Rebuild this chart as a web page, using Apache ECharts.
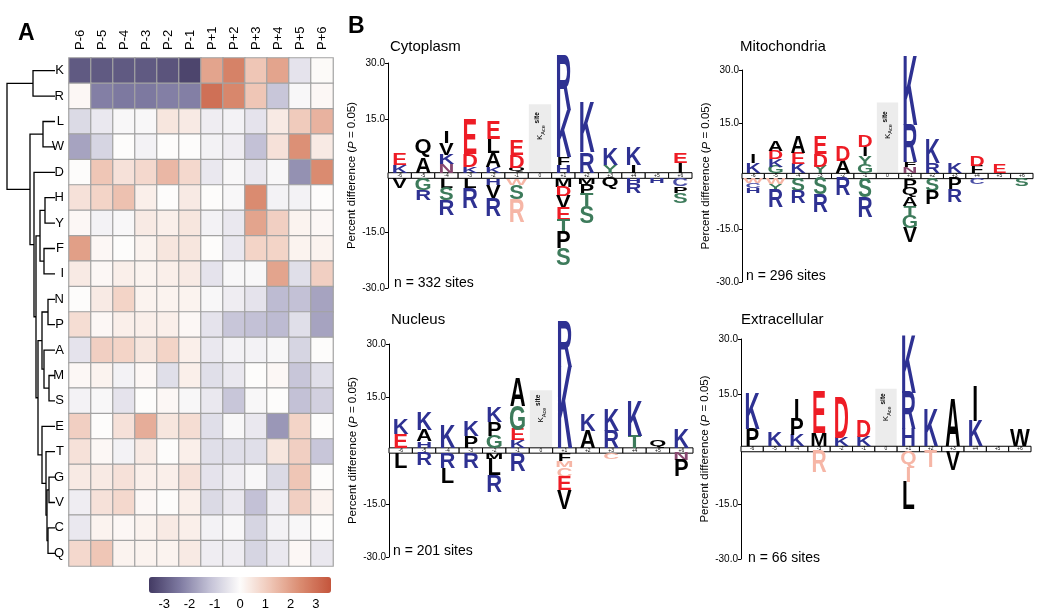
<!DOCTYPE html>
<html><head><meta charset="utf-8">
<script src="https://cdn.jsdelivr.net/npm/echarts@6/dist/echarts.min.js"></script>
<style>html,body{margin:0;padding:0;background:#fff}#c{width:1039px;height:613px}</style>
</head><body><div id="c"></div>
<script>
// ---------------- DATA: panel A heatmap ----------------
const positions = ['P-6','P-5','P-4','P-3','P-2','P-1','P+1','P+2','P+3','P+4','P+5','P+6'];
const residues = ['K','R','L','W','D','H','Y','F','I','N','P','A','M','S','E','T','G','V','C','Q'];
const heatValues = [
  [-3.0,-3.0,-3.0,-3.0,-3.1,-3.4, 1.9, 2.6, 1.2, 1.9,-0.5, 0.05], // K
  [ 0.1,-2.3,-2.4,-2.4,-2.3,-2.3, 3.0, 2.5, 1.2,-1.1,-0.1, 0.1],  // R
  [-0.7,-0.4,-0.1,-0.1, 0.5, 0.4,-0.3,-0.2,-0.5, 0.4, 1.1, 1.6],  // L
  [-1.7,-0.8, 0.0,-0.2, 0.0, 0.0,-0.2,-0.3,-1.2, 0.6, 2.3, 0.4],  // W
  [ 0.0, 1.2, 0.6, 0.8, 1.5, 0.8,-0.4,-0.1,-0.4,-0.1,-2.0, 2.4],  // D
  [ 0.6, 0.9, 1.3, 0.3, 0.0, 0.4, 0.0,-0.1, 2.4,-0.2,-0.2, 0.0],  // H
  [ 0.1,-0.2,-0.1, 0.4, 0.3, 0.5,-0.2,-0.4, 1.9, 1.0, 0.2, 0.1],  // Y
  [ 2.0, 0.1, 0.0, 0.2, 0.5, 0.5, 0.0,-0.4, 0.9, 0.9, 0.2, 0.2],  // F
  [ 0.4, 0.1, 0.3, 0.2, 0.3, 0.4,-0.5,-0.1,-0.1, 1.9,-0.6, 1.0],  // I
  [ 0.0, 0.4, 0.9, 0.2, 0.2, 0.2,-0.1,-0.3,-0.5,-1.3,-1.2,-1.7],  // N
  [ 0.7, 0.1, 0.3, 0.3, 0.3, 0.1,-0.5,-1.1,-1.2,-1.3,-0.6,-1.7],  // P
  [-0.5, 1.0, 0.9, 0.5, 0.9, 0.3,-0.4,-0.2,-0.2,-0.1,-0.8, 0.0],  // A
  [ 0.1, 0.2,-0.2, 0.1,-0.6, 0.3,-0.6,-0.4, 0.0, 0.1,-1.1,-0.6],  // M
  [-0.2,-0.1,-0.5, 0.0, 0.1,-0.1,-0.4,-1.1,-0.1, 0.0,-1.2,-0.9],  // S
  [ 1.0, 0.0, 0.6, 1.7, 0.5, 0.7,-0.6,-0.1,-0.4,-1.9, 0.9, 0.0],  // E
  [ 0.6, 0.1,-0.2, 0.4, 0.0, 0.3,-0.6,-0.6,-0.6, 0.5, 1.0,-1.1],  // T
  [ 0.4, 0.4, 0.6, 0.3, 0.3, 0.6,-0.5,-0.3,-0.1,-0.7, 1.2, 0.0],  // G
  [-0.3, 0.6, 0.8, 0.1, 0.0, 0.3,-0.7,-0.4,-1.2,-0.3, 1.0, 0.2],  // V
  [-0.4, 0.2, 0.1, 0.2, 0.4, 0.3,-0.2,-0.1,-0.8,-0.2,-0.1, 0.0],  // C
  [ 0.8, 1.2, 0.2, 0.2, 0.2, 0.4,-0.3,-0.3,-0.8,-0.4, 0.1,-0.4]   // Q
];
const colorScaleTicks = [-3,-2,-1,0,1,2,3];
// dendrogram: [left, right, mergeHeight], leaves are row indices of residues
const dendroTree = [[0,1,22],
  [[2,3,12],
   [4,
    [[[5,6,10],[7,8,11],15],
     [[[9,10,7],[11,[12,13,6],11],13],
      [14,[15,[[16,17,6],[18,19,7],8],9],13],17],19],21],25],48];

// ---------------- DATA: panel B logos ----------------
// letters bottom->top (up) or top->bottom (down), value = percent difference; lowercase = pale letters
const posLabels = ['-6','-5','-4','-3','-2','-1','0','+1','+2','+3','+4','+5','+6'];
const compartments = ['Cytoplasm','Mitochondria','Nucleus','Extracellular'];
const siteCounts = [332, 296, 201, 66];
const kaceBoxTop = [19, 20.8, 17, 16.4];
const cytoUp = ['K2.1 E3.0','A3.9 Q5.0','N2.3 K2.5 V3.0 I2.9','K1.6 D3.5 E9.1','K1.6 A3.6 L3.7 E4.7','Q1.3 D3.4 E3.9','',
  'H2.1 F2.1 K12.6 R14.4','R5.5 K13.3','Y2.1 K4.4','I2.1 K4.8','','I2.5 E2.6'];
const cytoDown = ['V2.7','G3.1 R2.7','L2.5 S3.3 R3.9','L2.7 R5.2','H1.8 V3.4 R4.8','w1.8 S3.8 r6.0','',
  'M2.2 D2.5 V3.2 E3.2 T3.2 P4.4 S4.5','M1.5 P2.7 T3.2 S4.4','Q2.9','H1.3 R2.5','H1.3','C2.0 P1.8 S2.7'];
const mitoUp = ['K2.85 I2.55','G1.9 K2.1 D2.4 A2.85','K2.65 E3.15 A4.45','Y1.9 D3.6 E4.75','A3.6 D4.1','G2.45 Y2.4 I2.65 D3.15','',
  'N1.7 F1.5 R10.35 K19.0','R2.85 K6.65','K2.65','F2.2 D2.65','E2.55',''];
const mitoDown = ['w1.35 C1.25 H1.4','w1.6 Y1.6 R4.95','S3.5 R3.3','S4.45 R4.95','R4.75','S5.3 R5.6','',
  'P2.55 Q2.85 A2.4 T2.85 G3.3 V4.1','S3.5 P3.8','P3.05 R3.6','C1.6','','S2.1'];
const nucUp = ['E3.9 K4.2','H1.9 A3.2 K5.1','K6.3','P3.2 K4.3','G3.4 P4.0 K4.1','K2.1 E3.0 G6.6 A7.9','',
  'K22.7 R12.8','A4.8 K4.6','R4.8 K6.1','T3.4 K9.5','Q2.4','K5.2'];
const nucDown = ['L4.3','R3.4','R4.3 L4.2','R4.3','M1.7 L4.5 R4.6','R5.0','',
  'F2.1 m1.9 c2.6 E3.9 V5.3','','c1.7','','','N2.0 P4.5'];
const extraUp = ['P4.8 K9.3','K3.7','K3.1 P4.4 I5.4','M3.5 E11.1','K2.3 D10.9','K2.5 D4.3','',
  'H4.6 R10.0 K15.1','K9.7','A12.5','K6.8 I9.1','','W4.5'];
const extraDown = ['','','','r5.6','','','',
  'q4.2 i4.0 L7.4','t4.2','V5.1','','',''];

// ---------------- STYLE / LAYOUT ----------------
const FONT = '"Liberation Sans", Arial, Helvetica, sans-serif';
const aaColor = {K:'#2e3192',R:'#2e3192',H:'#2e3192',D:'#ee1c25',E:'#ee1c25',
  S:'#3d7b5b',T:'#3d7b5b',G:'#3d7b5b',Y:'#3d7b5b',N:'#87476f',C:'#4b4fa6'};
const PALE = '#f6b6a6';
const panelGrids = [
  {left:388, top:63, width:304, height:225},
  {left:742, top:70, width:291, height:212},
  {left:389, top:344, width:304, height:213},
  {left:741, top:339, width:290, height:220}];
const titlePos = [[390,39],[740,39],[391,312],[741,312]];
const nPos = [[394,276],[746,269],[393,544],[748,551]];
const letterFont = [22,21,22,21];
const BAND = 0.75;

function stack(cols, dir) {
  const out = [];
  cols.forEach((s, i) => {
    if (!s) return;
    let base = dir > 0 ? BAND : -BAND;
    s.split(' ').forEach(tok => {
      const ch = tok[0], h = parseFloat(tok.slice(1));
      const pale = ch !== ch.toUpperCase();
      const up = ch.toUpperCase();
      const y0 = base, y1 = base + dir * h; base = y1;
      out.push({pos: i - 6, y0, y1, ch: up, color: pale ? PALE : (aaColor[up] || '#000')});
    });
  });
  return out;
}

// exact glyph box (relative to the 'middle' baseline that zrender draws with)
const mctx = document.createElement('canvas').getContext('2d');
const glyphCache = {};
function glyphBox(ch, font) {
  const key = ch + font;
  if (!glyphCache[key]) {
    mctx.font = font; mctx.textBaseline = 'middle';
    const m = mctx.measureText(ch);
    glyphCache[key] = {asc: m.actualBoundingBoxAscent, desc: m.actualBoundingBoxDescent};
  }
  return glyphCache[key];
}

function letterRender(items, F) {
  const font = 'bold ' + F + 'px ' + FONT;
  return function (params, api) {
    const it = items[params.dataIndex];
    const a = api.coord([it.pos, it.y0]);
    const b = api.coord([it.pos, it.y1]);
    const top = Math.min(a[1], b[1]);
    const hpx = Math.abs(a[1] - b[1]);
    const g = glyphBox(it.ch, font);
    const sy = hpx / (g.asc + g.desc);
    return {type:'text', x: a[0], y: top + g.asc * sy, scaleX: 1, scaleY: sy,
      style:{text: it.ch, font: font, fill: it.color, align:'center', verticalAlign:'middle'}};
  };
}

// dendrogram segments
const dendroSegs = [];
(function walk(node){
  if (typeof node === 'number') return {pos:node, h:0};
  const a = walk(node[0]), b = walk(node[1]), h = node[2];
  dendroSegs.push([a.h, a.pos, b.h, b.pos, h]);
  return {pos:(a.pos + b.pos) / 2, h};
})(dendroTree);

const heatData = [];
residues.forEach((r, ri) => positions.forEach((p, ci) => heatData.push([ci, ri, heatValues[ri][ci]])));

const grids = [
  {left:69, top:58, width:264, height:508},
  {left:7, top:58, width:48, height:508},
  {left:139, top:577, width:202, height:16}
].concat(panelGrids);

const xAxes = [
  {gridIndex:0, type:'category', data:positions, position:'top', axisLine:{show:false}, axisTick:{show:false},
   axisLabel:{rotate:-90, fontSize:13, color:'#000', margin:8, fontFamily:FONT}},
  {gridIndex:1, type:'value', min:0, max:48, inverse:true, show:false},
  {gridIndex:2, type:'value', min:-4, max:4, interval:1, axisLine:{show:false}, axisTick:{show:false}, splitLine:{show:false},
   axisLabel:{fontSize:13, color:'#000', margin:5, fontFamily:FONT,
     formatter: v => colorScaleTicks.indexOf(v) >= 0 ? String(v) : ''}}
];
const yAxes = [
  {gridIndex:0, type:'category', data:residues, inverse:true, axisLine:{show:false}, axisTick:{show:false},
   axisLabel:{fontSize:13, color:'#000', margin:5, fontFamily:FONT}},
  {gridIndex:1, type:'value', min:-0.5, max:19.5, inverse:true, show:false},
  {gridIndex:2, type:'value', show:false}
];
const series = [
  {type:'heatmap', xAxisIndex:0, yAxisIndex:0, data:heatData, silent:true,
   itemStyle:{borderColor:'#a3a3a3', borderWidth:1.2}, emphasis:{disabled:true}},
  {type:'custom', xAxisIndex:1, yAxisIndex:1, data:dendroSegs, silent:true, clip:false,
   renderItem:(params, api) => {
     const p1 = api.coord([api.value(0), api.value(1)]);
     const p2 = api.coord([api.value(4), api.value(1)]);
     const p3 = api.coord([api.value(4), api.value(3)]);
     const p4 = api.coord([api.value(2), api.value(3)]);
     return {type:'polyline', shape:{points:[p1,p2,p3,p4]}, style:{stroke:'#000', fill:null, lineWidth:1.3}};
   }}
];

const ups = [cytoUp, mitoUp, nucUp, extraUp];
const downs = [cytoDown, mitoDown, nucDown, extraDown];
const graphics = [
  {type:'text', left:18, top:22, style:{text:'A', font:'bold 23px ' + FONT, fill:'#000'}},
  {type:'text', left:348, top:15, style:{text:'B', font:'bold 23px ' + FONT, fill:'#000'}}
];

panelGrids.forEach((g, k) => {
  const gi = 3 + k;
  xAxes.push({gridIndex:gi, type:'value', min:-6.5, max:6.5, show:false});
  yAxes.push({gridIndex:gi, type:'value', min:-30, max:30, interval:15, position:'left',
    axisLine:{show:true, onZero:false, lineStyle:{color:'#000', width:1}},
    axisTick:{show:true, length:3, lineStyle:{color:'#000'}, customValues:[-30,-15,15,30]},
    splitLine:{show:false},
    axisLabel:{fontSize:10, color:'#000', margin:3, fontFamily:FONT,
      formatter: v => v === 0 ? '' : v.toFixed(1)},
    name:'{n|Percent difference (}{i|P}{n| = 0.05)}', nameLocation:'middle', nameGap:29,
    nameTextStyle:{rich:{n:{fontSize:11.5, fontFamily:FONT, color:'#000'},
                         i:{fontSize:11.5, fontFamily:FONT, fontStyle:'italic', color:'#000'}}}});
  // position band
  series.push({type:'custom', xAxisIndex:gi, yAxisIndex:gi, silent:true, clip:false, z:3,
    data: posLabels.map((l, i) => [i - 6]),
    renderItem:(params, api) => {
      const p = api.value(0);
      const a = api.coord([p - 0.5, BAND]), b = api.coord([p + 0.5, -BAND]);
      return {type:'group', children:[
        {type:'rect', shape:{x:a[0], y:a[1], width:b[0]-a[0], height:b[1]-a[1]},
         style:{fill:'#fff', stroke:'#000', lineWidth:1}},
        {type:'text', x:(a[0]+b[0])/2, y:(a[1]+b[1])/2,
         style:{text:posLabels[params.dataIndex], font:'5px ' + FONT, fill:'#000', align:'center', verticalAlign:'middle'}}
      ]};
    }});
  // K_Ace site box
  series.push({type:'custom', xAxisIndex:gi, yAxisIndex:gi, silent:true, clip:false, z:2,
    data:[[0, kaceBoxTop[k]]],
    renderItem:(params, api) => {
      const a = api.coord([-0.5, api.value(1)]), b = api.coord([0.5, BAND]);
      return {type:'group', children:[
        {type:'rect', shape:{x:a[0]+0.5, y:a[1], width:b[0]-a[0]-1, height:b[1]-a[1]}, style:{fill:'#ececec'}},
        {type:'text', x:(a[0]+b[0])/2, y:a[1] + (b[1]-a[1])*0.32, rotation:Math.PI/2,
         style:{text:'{k|K}{s|Ace}{t| site}', align:'center', verticalAlign:'middle',
           rich:{k:{fontSize:8, fontFamily:FONT, fill:'#000', lineHeight:12},
                 s:{fontSize:5.5, fontFamily:FONT, fill:'#000', verticalAlign:'bottom', lineHeight:12},
                 t:{fontSize:6.5, fontFamily:FONT, fill:'#000', fontWeight:'bold', verticalAlign:'top', lineHeight:12}}}}
      ]};
    }});
  // letters
  const items = stack(ups[k], 1).concat(stack(downs[k], -1));
  series.push({type:'custom', xAxisIndex:gi, yAxisIndex:gi, silent:true, clip:false, z:5,
    data: items.map(it => [it.pos, it.y0, it.y1]),
    renderItem: letterRender(items, letterFont[k])});
  graphics.push({type:'text', left:titlePos[k][0], top:titlePos[k][1],
    style:{text:compartments[k], font:'15px ' + FONT, fill:'#000'}});
  graphics.push({type:'text', left:nPos[k][0], top:nPos[k][1],
    style:{text:'n = ' + siteCounts[k] + ' sites', font:'14px ' + FONT, fill:'#000'}});
});

const chart = echarts.init(document.getElementById('c'));
chart.setOption({
  animation:false,
  backgroundColor:'#fff',
  textStyle:{fontFamily:FONT},
  grid:grids,
  xAxis:xAxes,
  yAxis:yAxes,
  visualMap:{type:'continuous', seriesIndex:0, min:-3.6, max:3.6, orient:'horizontal',
    left:149, top:577, itemWidth:16, itemHeight:182, padding:0, calculable:false, hoverLink:false,
    text:null, showLabel:false,
    inRange:{color:['#433a63','#7d79a0','#c3c1d6','#fdfcfb','#efc6b6','#da8b70','#c4553c']}},
  graphic:graphics,
  series:series
});
</script></body></html>
